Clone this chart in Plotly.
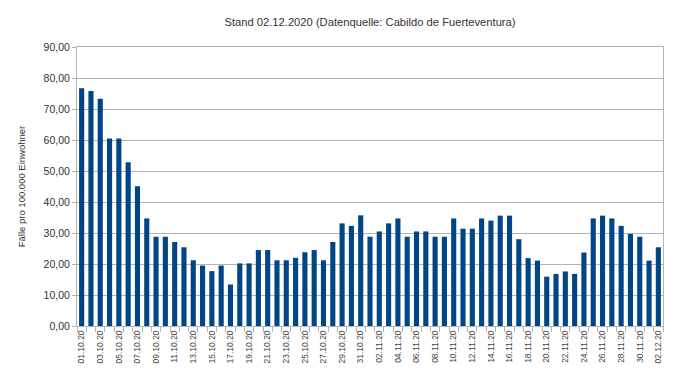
import plotly.graph_objects as go
import datetime as dt

title_text = "Stand 02.12.2020 (Datenquelle: Cabildo de Fuerteventura)"
y_title = "Fälle pro 100.000 Einwohner"

start = dt.date(2020, 10, 1)
dates = [(start + dt.timedelta(days=i)).strftime("%d.%m.%y") for i in range(63)]

values = [
    76.7, 75.8, 73.3, 60.5, 60.5, 52.8, 45.1, 34.7, 28.8, 28.8,
    27.1, 25.4, 21.2, 19.5, 17.7, 19.5, 13.4, 20.2, 20.2, 24.5,
    24.5, 21.2, 21.2, 22.0, 23.8, 24.5, 21.2, 27.1, 33.1, 32.3,
    35.7, 28.8, 30.5, 33.1, 34.7, 28.8, 30.5, 30.5, 28.8, 28.8,
    34.7, 31.4, 31.4, 34.7, 34.0, 35.6, 35.6, 28.0, 21.9, 21.1,
    15.9, 16.8, 17.6, 16.8, 23.7, 34.7, 35.6, 34.7, 32.3, 29.7,
    28.8, 21.1, 25.4,
]

tick_text = [d if i % 2 == 0 else "" for i, d in enumerate(dates)]

FONT = "Liberation Sans Narrow, Liberation Sans, Arial"

fig = go.Figure(go.Bar(x=dates, y=values, marker_color="#004586", marker_line_width=0))

fig.update_layout(
    width=678, height=381,
    margin=dict(l=77, r=15, t=47, b=55, autoexpand=False),
    paper_bgcolor="white", plot_bgcolor="white",
    separators=",.",
    bargap=0.45,
    showlegend=False,
    font=dict(family=FONT, size=11, color="#333333"),
    title=dict(text=title_text, x=0.5, xanchor="center", xref="paper",
               y=1 - 22 / 381, yref="container", yanchor="middle",
               font=dict(size=11.2, color="#333333"), automargin=False),
)
fig.update_xaxes(
    type="category", tickmode="array", tickvals=dates, ticktext=tick_text,
    tickangle=-90, tickfont=dict(size=8.5, color="#444444"),
    ticks="outside", ticklen=5, tickcolor="#b3b3b3", tickson="boundaries",
    showline=True, linecolor="#b3b3b3", mirror=True, showgrid=False,
    automargin=False,
)
fig.update_yaxes(
    range=[0, 90], dtick=10, tickformat=".2f", tickfont=dict(size=10.5),
    ticks="outside", ticklen=4, tickcolor="#b3b3b3",
    showline=True, linecolor="#b3b3b3", mirror=True,
    showgrid=True, gridcolor="#b3b3b3", gridwidth=1,
    title=dict(text=y_title, font=dict(size=9.5), standoff=16),
    zeroline=False, automargin=False,
)

fig.write_html("out.html", post_script="document.body.style.margin='0';",
               config={"displayModeBar": False})
